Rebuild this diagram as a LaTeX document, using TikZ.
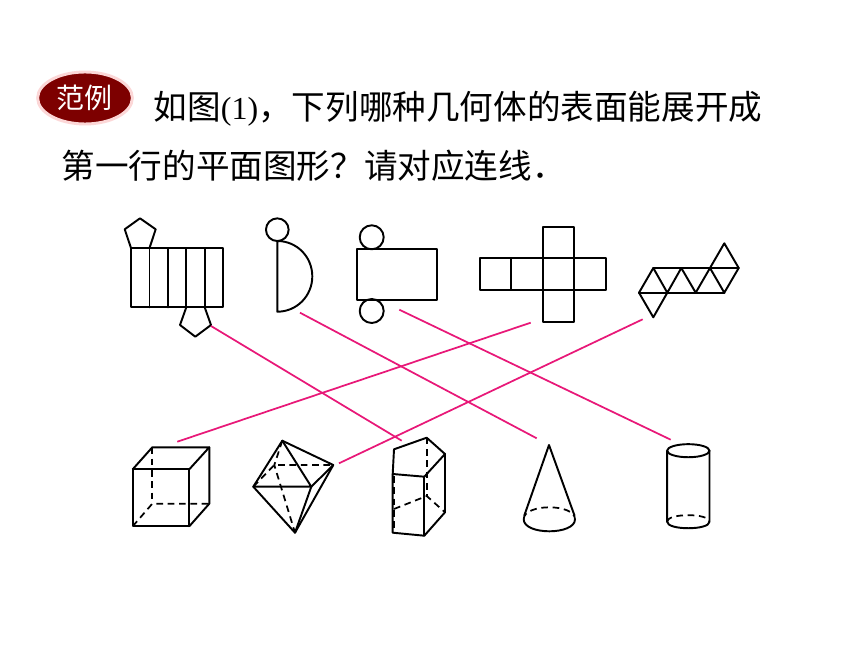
\documentclass[tikz,border=0pt]{standalone}
\usepackage{fontspec}
\usetikzlibrary{shapes.geometric}
\setmainfont{Liberation Serif}
\newfontfamily\cjk{Noto Sans CJK SC}
\definecolor{linkpink}{RGB}{232,24,120}
\definecolor{badgered}{RGB}{125,0,0}
\definecolor{badgeedge}{RGB}{252,215,215}
\tikzset{
  shape line/.style={draw=black,line width=1.45pt,line join=round,line cap=round},
  hidden line/.style={draw=black,line width=1.3pt,dash pattern=on 5pt off 3.5pt},
  link/.style={draw=linkpink,line width=1.3pt},
  body text/.style={anchor=west,inner sep=0pt,font=\fontsize{25.2}{30}\selectfont\cjk},
}
\begin{document}
\begin{tikzpicture}[x=0.75pt,y=-0.75pt]
\useasboundingbox (0,0) rectangle (860,645);
\fill[white] (0,0) rectangle (860,645);

% heading
\node[ellipse,draw=badgeedge,fill=badgered,line width=2.2pt,minimum width=71pt,minimum height=39pt,inner sep=0pt,
      text=white,font=\fontsize{21}{24}\selectfont\cjk] (badge) at (85,98) {\raisebox{1pt}{范例\hspace{1.5pt}}};
\node[body text] (line1) at (153.5,109) {如图{\fontsize{24}{30}\selectfont\rmfamily (1)}，下列哪种几何体的表面能展开成};
\node[body text] (line2) at (61.5,165.5) {第一行的平面图形？请对应连线．};

% net 1: pentagonal prism
\draw[shape line] (131,248) rectangle (222.7,307.3);
\foreach \x in {149.5,167.7,186.3,204.7} \draw[shape line] (\x,248) -- (\x,307.3);
\draw[shape line] (131,248) -- (124.7,229.3) -- (140,218.3) -- (155.7,229.3) -- (149.5,248);
\draw[shape line] (186.3,307.3) -- (180,325) -- (195.3,336.7) -- (211,325) -- (204.7,307.3);

% net 2: cone
\draw[shape line] (277.3,229.7) circle[radius=8.5pt];
\draw[shape line] (277.3,241) -- (277.3,311.7)
  .. controls (296.8,311.7) and (312.3,295.9) .. (312.3,276.3)
  .. controls (312.3,256.8) and (296.8,241) .. (277.3,241) -- cycle;

% net 3: cylinder
\draw[shape line] (357,249.3) rectangle (437,300);
\draw[shape line] (371.7,237.3) circle[radius=9pt];
\draw[shape line] (371.7,311) circle[radius=9pt];

% net 4: cube
\draw[shape line] (480,258.3) rectangle (605.7,290);
\draw[shape line] (542.7,227.3) rectangle (574.3,321.7);
\draw[shape line] (511.3,258.3) -- (511.3,290);

% net 5: octahedron
\draw[shape line] (653.3,268) -- (738.7,268);
\draw[shape line] (639,292.7) -- (724.3,292.7);
\draw[shape line] (639,292.7) -- (653.3,268) -- (667.3,292.7) -- (681.3,268) -- (695.7,292.7) -- (710,268) -- (724.3,292.7) -- (738.7,268);
\draw[shape line] (710,268) -- (724.3,243.3) -- (738.7,268);
\draw[shape line] (639,292.7) -- (653.3,317.3) -- (667.3,292.7);

% cube
\draw[hidden line] (152.3,447.3) -- (152.3,503.7);
\draw[hidden line] (132.7,526.3) -- (152.3,503.7) -- (209.3,503.7);
\draw[shape line] (132.7,469.3) rectangle (189.3,526.3);
\draw[shape line] (132.7,469.3) -- (152.3,447.3) -- (209.3,447.3) -- (189.3,469.3);
\draw[shape line] (209.3,447.3) -- (209.3,503.7) -- (189.3,526.3);

% octahedron
\draw[hidden line] (253.3,486.7) -- (274.3,465) -- (333.3,465);
\draw[hidden line] (282.3,440.7) -- (274.3,465) -- (295,532.7);
\draw[shape line] (253.3,486.7) -- (282.3,440.7) -- (311.3,486.7) -- cycle;
\draw[shape line] (282.3,440.7) -- (333.3,465) -- (295,532.7) -- (253.3,486.7);
\draw[shape line] (311.3,486.7) -- (333.3,465);
\draw[shape line] (311.3,486.7) -- (295,532.7);

% pentagonal prism
\draw[hidden line] (426.7,437.7) -- (426.7,496);
\draw[hidden line] (394,509) -- (426.7,496) -- (445,512.3);
\draw[hidden line] (394,476) -- (394,532);
\draw[shape line] (392.7,474) -- (394,449.3) -- (426.7,437.7) -- (445,454) -- (424.3,476.7) -- cycle;
\draw[shape line] (392.7,474) -- (392.7,532.7) -- (424.3,535.7) -- (445,512.3) -- (445,454);
\draw[shape line] (424.3,476.7) -- (424.3,535.7);

% cone
\draw[hidden line] (523.7,519.3) .. controls (523.7,503.3) and (575,503.3) .. (575,519.3);
\draw[shape line] (524.3,515.5) -- (549,445) -- (574.5,515.5);
\draw[shape line] (523.7,519.3) .. controls (523.7,535.3) and (575,535.3) .. (575,519.3);

% cylinder
\draw[shape line] (688.3,450.7) ellipse[x radius=15.9pt,y radius=4.9pt];
\draw[shape line] (667.1,450.7) -- (667.1,521.7) .. controls (667.1,530.4) and (709.5,530.4) .. (709.5,521.7) -- (709.5,450.7);
\draw[hidden line] (667.1,521.7) .. controls (667.1,513) and (709.5,513) .. (709.5,521.7);

% connectors
\coordinate (netA) at (211,326);
\coordinate (netB) at (300,312.7);
\coordinate (netC) at (399.3,309.7);
\coordinate (netD) at (530.7,322.7);
\coordinate (netE) at (642.7,319.3);
\coordinate (solidA) at (177.3,441.7);
\coordinate (solidB) at (339,463.3);
\coordinate (solidC) at (401.7,440.7);
\coordinate (solidD) at (536.7,438.3);
\coordinate (solidE) at (670.7,439.7);
\draw[link] (netA) -- (solidC);
\draw[link] (netB) -- (solidD);
\draw[link] (netC) -- (solidE);
\draw[link] (netD) -- (solidA);
\draw[link] (netE) -- (solidB);
\end{tikzpicture}
\end{document}
